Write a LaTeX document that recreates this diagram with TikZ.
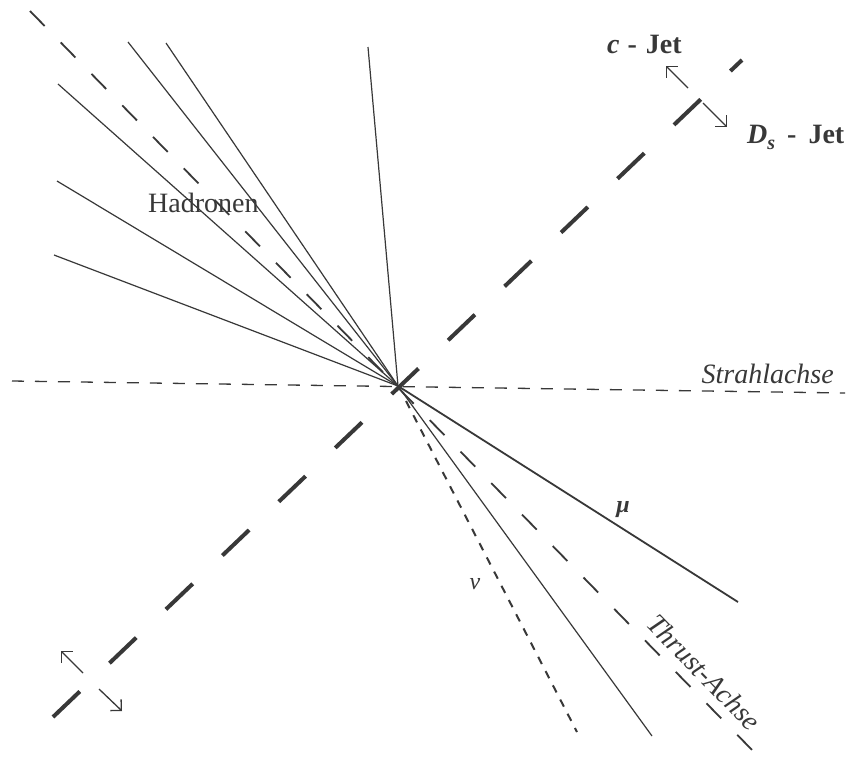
\documentclass[tikz,border=0pt]{standalone}
\usepackage{fontspec}
\setmainfont{Liberation Serif}
\usetikzlibrary{arrows.meta}
\begin{document}
\begin{tikzpicture}[x=1pt,y=-1pt,
  ink/.style={color=black!78},
  hadron/.style={ink, line width=1.2pt},
  thrustaxis/.style={ink, line width=1.8pt, dash pattern=on 21pt off 23pt},
  jetaxis/.style={ink, line width=4pt, dash pattern=on 37pt off 41pt},
  beamaxis/.style={ink, line width=1.3pt, dash pattern=on 12pt off 11pt},
  nuline/.style={ink, line width=2pt, dash pattern=on 8pt off 8pt},
  muline/.style={ink, line width=1.8pt},
  dirarrow/.style={ink, line width=1.3pt, -{Straight Barb[angle=90:11pt]}},
  lbl/.style={ink, inner sep=0pt, font=\fontsize{28}{30}\selectfont}]
\useasboundingbox (0,0) rectangle (861,758);
\fill[white] (0,0) rectangle (861,758);

% centre
\coordinate (O) at (398,386);

% axes
\coordinate (thrA) at (30,11);
\coordinate (thrB) at (755,753);
\coordinate (jetA) at (53,717);
\coordinate (jetB) at (742,60);
\coordinate (beamA) at (12,381);
\coordinate (beamB) at (845,393);
\draw[beamaxis] (beamA) -- (beamB);
\draw[thrustaxis] (thrA) -- (thrB);
\draw[jetaxis] (jetA) -- (jetB);

% hadron tracks
\coordinate (h1) at (54,255);
\coordinate (h2) at (57,181);
\coordinate (h3) at (58,84);
\coordinate (h4) at (128,42);
\coordinate (h5) at (166,43);
\coordinate (h6) at (368,47);
\coordinate (h7) at (652,736);
\foreach \h in {h1,h2,h3,h4,h5,h6,h7} \draw[hadron] (O) -- (\h);

% muon and neutrino
\coordinate (mu) at (738,602);
\coordinate (nuA) at (406,401);
\coordinate (nu) at (577,732);
\draw[muline] (O) -- (mu);
\draw[nuline] (nuA) -- (nu);

% direction arrows
\coordinate (a1s) at (688,88);  \coordinate (a1e) at (666,66);
\coordinate (a2s) at (703,103); \coordinate (a2e) at (727,127);
\coordinate (a3s) at (83,673);  \coordinate (a3e) at (61,651);
\coordinate (a4s) at (99,689);  \coordinate (a4e) at (122,711);
\draw[dirarrow] (a1s) -- (a1e);
\draw[dirarrow] (a2s) -- (a2e);
\draw[dirarrow] (a3s) -- (a3e);
\draw[dirarrow] (a4s) -- (a4e);

% labels
\node[lbl, anchor=base west] (cjet) at (607,53) {\bfseries\itshape c\upshape\hspace{8pt}-\hspace{9pt}Jet};
\node[lbl, anchor=base west] (dsjet) at (747,143) {\bfseries\itshape D\raisebox{-0.22em}{\fontsize{20}{20}\selectfont s}\upshape\hspace{12pt}-\hspace{12pt}Jet};
\node[lbl, anchor=base west] (had) at (148,212) {Hadronen};
\node[lbl, anchor=base east] (strahl) at (834,383) {\itshape Strahlachse};
\node[lbl, anchor=center, rotate=-45.7] (thrust) at (704,672) {\itshape Thrust-Achse};
\node[lbl, anchor=center, font=\fontsize{24}{26}\selectfont] (mulbl) at (623,510) {\bfseries\itshape μ};
\node[lbl, anchor=center, font=\fontsize{24}{26}\selectfont] (nulbl) at (475,584) {\itshape ν};
\end{tikzpicture}
\end{document}
